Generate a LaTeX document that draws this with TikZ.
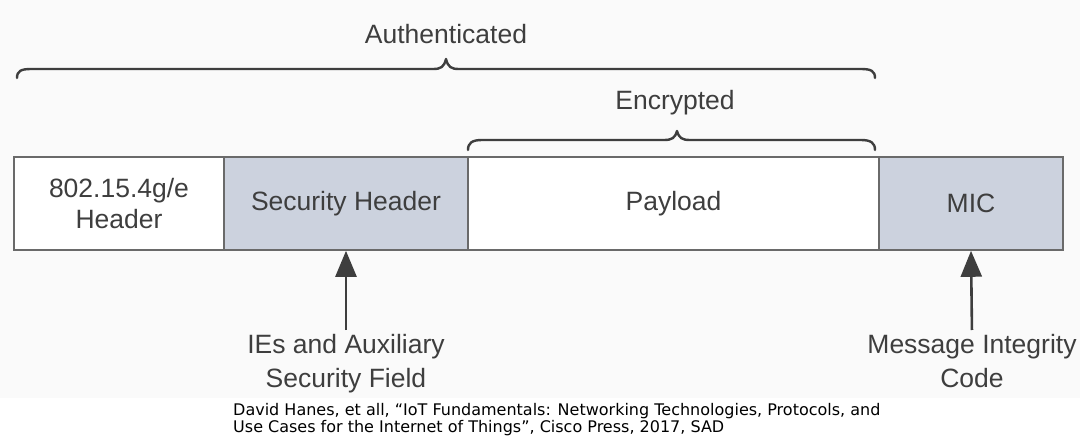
\documentclass[tikz,border=0pt]{standalone}
\usepackage{fontspec}
\setmainfont{Liberation Sans}
\newfontfamily\citefont{DejaVu Sans}
\usetikzlibrary{arrows.meta}
\definecolor{ink}{HTML}{3E3E3E}
\definecolor{frame}{HTML}{6A6A6A}
\definecolor{shade}{HTML}{CCD2DE}
\definecolor{paper}{HTML}{FAFAFA}
\tikzset{
  field/.style={draw=frame, line width=1.6pt, minimum height=93pt, inner sep=0pt,
    text=ink, font=\fontsize{26.5}{31}\selectfont, align=center},
  plain/.style={field, fill=white},
  tinted/.style={field, fill=shade},
  caption/.style={text=ink, font=\fontsize{26.5}{34}\selectfont, align=center, inner sep=0pt},
  brace/.style={draw=ink, line width=2.4pt, line cap=round, line join=round},
  pointer/.style={draw=ink, line width=2.6pt, -{Triangle[length=26pt,width=21pt]}, shorten <=4pt},
  source/.style={text=black, font=\citefont\fontsize{16}{17}\selectfont, align=left, inner sep=0pt, anchor=west}
}
\begin{document}
\begin{tikzpicture}[x=1pt,y=-1pt]
  \useasboundingbox (0,0) rectangle (1080,439);
  \fill[white] (0,0) rectangle (1080,439);
  \fill[paper] (0,0) rectangle (1080,398);

  % frame fields
  \node[plain,  minimum width=210pt] (hdr) at (119,203.5) {802.15.4g/e\\Header};
  \node[tinted, minimum width=244pt] (sec) at (346,203.5) {Security Header};
  \node[plain,  minimum width=411pt] (pay) at (673.5,203.5) {Payload};
  \node[tinted, minimum width=184pt] (mic) at (971,203.5) {MIC};

  % brace over the authenticated part
  \node[caption] (auth) at (446,34) {Authenticated};
  \draw[brace] (17,78) .. controls (17,71) and (21,69) .. (31,69) -- (433,69)
    .. controls (441,69) and (444,67) .. (446,59)
    .. controls (448,67) and (451,69) .. (459,69) -- (861,69)
    .. controls (871,69) and (875,71) .. (875,78);

  % brace over the encrypted part
  \node[caption] (enc) at (675,103) {Encrypted};
  \draw[brace] (468,150) .. controls (468,143) and (472,140) .. (482,140) -- (664,140)
    .. controls (672,140) and (675,138) .. (677,131)
    .. controls (679,138) and (682,140) .. (690,140) -- (861,140)
    .. controls (871,140) and (875,143) .. (875,150);

  % annotations below the frame
  \node[caption, anchor=north] (ies) at (346,334) {IEs and Auxiliary\\Security Field};
  \node[caption, anchor=north] (mig) at (972,334) {Message Integrity\\Code};
  \draw[pointer] (ies.north) -- (sec.south);
  \draw[pointer] (mig.north) -- (mic.south);

  % reference
  \node[source] (ref) at (233,420) {David Hanes, et all, “IoT Fundamentals: Networking Technologies, Protocols, and\\Use Cases for the Internet of Things”, Cisco Press, 2017, SAD};
\end{tikzpicture}
\end{document}
